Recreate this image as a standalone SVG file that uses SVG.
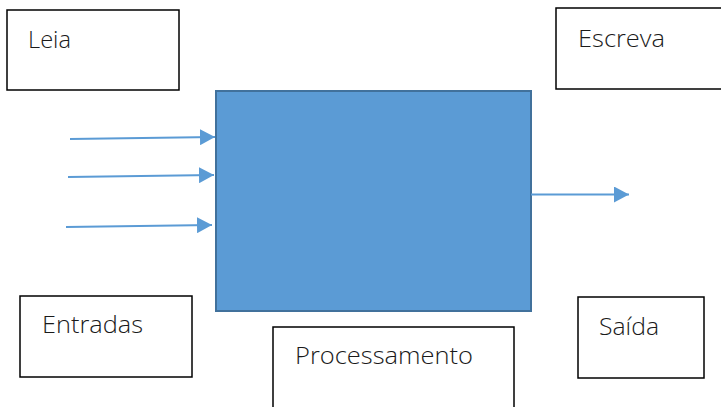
<svg xmlns="http://www.w3.org/2000/svg" width="721" height="407" viewBox="0 0 721 407">
<style>
.box{fill:#fff;stroke:#000;stroke-width:1.5}
.lbl{font-family:"Open Sans","Liberation Sans",sans-serif;font-weight:300;font-size:23px;fill:#1a1a1a}
.conn{stroke:#5B9BD5;stroke-width:2;fill:none}
</style>
<defs>
<marker id="ah" markerUnits="userSpaceOnUse" markerWidth="16" markerHeight="16" refX="15" refY="8" orient="auto">
<path d="M0,0 L15,8 L0,16 Z" fill="#5B9BD5"/>
</marker>
</defs>
<rect width="721" height="407" fill="#fff"/>
<g id="leia"><rect class="box" x="7" y="10" width="172" height="80"/><text class="lbl" x="28" y="48" textLength="43" lengthAdjust="spacingAndGlyphs">Leia</text></g>
<g id="escreva"><rect class="box" x="556" y="8" width="170" height="81"/><text class="lbl" x="578" y="47" textLength="87" lengthAdjust="spacingAndGlyphs">Escreva</text></g>
<g id="proc-block"><rect x="216" y="91" width="315" height="220" fill="#5B9BD5" stroke="#41719C" stroke-width="2"/></g>
<g id="entradas"><rect class="box" x="20" y="296" width="172" height="81"/><text class="lbl" x="42" y="333" textLength="101" lengthAdjust="spacingAndGlyphs">Entradas</text></g>
<g id="processamento"><rect class="box" x="273" y="327" width="241" height="90"/><text class="lbl" x="295" y="364" textLength="178" lengthAdjust="spacingAndGlyphs">Processamento</text></g>
<g id="saida"><rect class="box" x="578" y="297" width="126" height="81"/><text class="lbl" x="599" y="335" textLength="60" lengthAdjust="spacingAndGlyphs">Saída</text></g>
<g id="connectors">
<line class="conn" x1="70" y1="139" x2="215" y2="137" marker-end="url(#ah)"/>
<line class="conn" x1="68" y1="177" x2="214" y2="175" marker-end="url(#ah)"/>
<line class="conn" x1="66" y1="227" x2="212" y2="225" marker-end="url(#ah)"/>
<line class="conn" x1="531" y1="194.5" x2="629" y2="194.5" marker-end="url(#ah)"/>
</g>
</svg>
